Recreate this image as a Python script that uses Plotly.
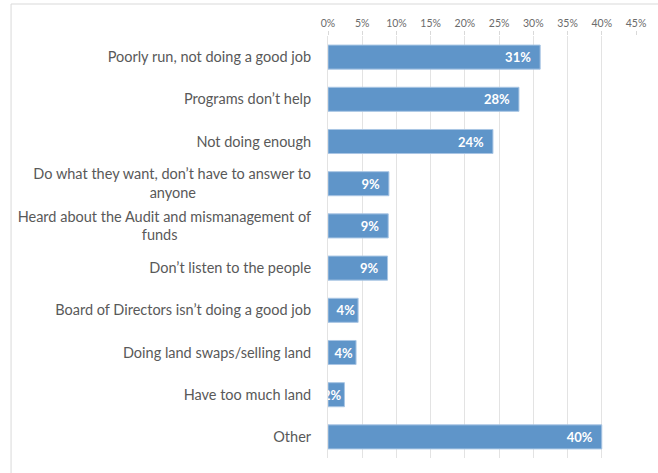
import plotly.graph_objects as go

categories = [
    "Poorly run, not doing a good job",
    "Programs don’t help",
    "Not doing enough",
    "Do what they want, don’t have to answer to<br>anyone" + "&nbsp;" * 31,
    "Heard about the Audit and mismanagement of<br>funds" + "&nbsp;" * 36,
    "Don’t listen to the people",
    "Board of Directors isn’t doing a good job",
    "Doing land swaps/selling land",
    "Have too much land",
    "Other",
]
values = [31.0, 27.9, 24.1, 8.9, 8.8, 8.7, 4.4, 4.1, 2.4, 40.0]
labels = ["31%", "28%", "24%", "9%", "9%", "9%", "4%", "4%", "2%", "40%"]
tick_vals = [0, 5, 10, 15, 20, 25, 30, 35, 40, 45]
tick_text = ["0%", "5%", "10%", "15%", "20%", "25%", "30%", "35%", "40%", "45%"]

W, H = 658, 473
ML, MR, MT, MB = 328, 20, 36, 15
pw, ph = W - ML - MR, H - MT - MB


def px_x(p):
    return (p - ML) / pw


def px_y(p):
    return (H - MB - p) / ph


bar_text = []
for v, t in zip(values, labels):
    if v >= 8:
        bar_text.append(t + "&nbsp;&nbsp;")
    else:
        bar_text.append(t)

fig = go.Figure(
    go.Bar(
        x=values,
        y=categories,
        orientation="h",
        text=bar_text,
        textposition="inside",
        insidetextanchor="end",
        constraintext="none",
        textangle=0,
        textfont=dict(family="Lato", size=13, color="white", weight="bold"),
        marker=dict(color="#5f95c9", line=dict(color="#a9c6e4", width=1)),
        width=0.57,
        cliponaxis=False,
    )
)

fig.update_layout(
    width=W,
    height=H,
    margin=dict(l=ML, r=MR, t=MT, b=MB),
    paper_bgcolor="white",
    plot_bgcolor="white",
    showlegend=False,
    font=dict(family="Lato", color="#595959"),
    shapes=[
        dict(type="line", xref="paper", yref="paper", x0=px_x(9), x1=px_x(W + 5),
             y0=px_y(4), y1=px_y(4), line=dict(color="#d9d9d9", width=1)),
        dict(type="line", xref="paper", yref="paper", x0=px_x(9), x1=px_x(9),
             y0=px_y(4), y1=px_y(H + 5), line=dict(color="#d9d9d9", width=1)),
    ],
)

fig.update_xaxes(
    side="top",
    range=[0, 45],
    tickvals=tick_vals,
    ticktext=tick_text,
    tickfont=dict(family="Lato", size=10.5, color="#6b6b6b"),
    showgrid=True,
    gridcolor="#e3e3e3",
    gridwidth=1,
    ticks="outside",
    ticklen=4,
    tickcolor="#d9d9d9",
    showline=False,
    zeroline=False,
    fixedrange=True,
)

fig.update_yaxes(
    categoryorder="array",
    categoryarray=categories,
    autorange="reversed",
    tickfont=dict(family="Lato", size=14.5, color="#595959"),
    ticks="",
    ticklabelstandoff=13,
    showline=True,
    linecolor="#e3e3e3",
    showgrid=False,
    fixedrange=True,
)

fig.write_html(
    "out.html",
    config={"displayModeBar": False},
    post_script="document.body.style.margin='0';",
)
